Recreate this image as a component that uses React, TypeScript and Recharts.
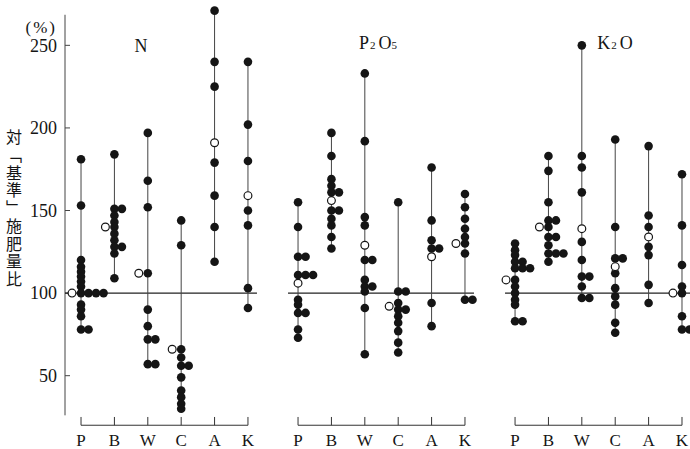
import { ScatterChart, Scatter, XAxis, YAxis, ReferenceLine } from "recharts";

const categories = ["P", "B", "W", "C", "A", "K"];
const yTicks = [50, 100, 150, 200, 250];

// 対「基準」施肥量比 (%) 黒丸 = 各事例, 白丸 = 平均
const nitrogen = [
  [181, 153, 120, 116, 113, 110, 107, 104, 100, 100, 100, 100, 93, 90, 86, 78, 78],
  [184, 151, 151, 147, 143, 140, 136, 132, 128, 128, 124, 109],
  [197, 168, 152, 112, 90, 80, 72, 72, 57, 57],
  [144, 129, 66, 61, 56, 56, 49, 41, 37, 33, 30],
  [271, 240, 225, 179, 159, 140, 119],
  [240, 202, 180, 150, 141, 103, 91],
];
const nitrogenOpen = [100, 140, 112, 66, 191, 159];

const phosphate = [
  [155, 140, 122, 122, 111, 111, 111, 96, 93, 88, 88, 78, 73],
  [197, 183, 169, 165, 161, 161, 150, 150, 145, 141, 134, 127],
  [233, 192, 146, 141, 120, 120, 108, 104, 104, 101, 91, 63],
  [155, 101, 101, 94, 90, 90, 86, 82, 77, 70, 64],
  [176, 144, 132, 127, 127, 94, 80],
  [160, 152, 145, 139, 134, 130, 124, 96, 96],
];
const phosphateOpen = [106, 156, 129, 92, 122, 130];

const potash = [
  [130, 126, 123, 119, 119, 115, 115, 115, 108, 104, 100, 96, 93, 83, 83],
  [183, 174, 155, 144, 144, 140, 134, 134, 129, 124, 124, 124, 119],
  [250, 183, 176, 161, 131, 120, 110, 110, 104, 97, 97],
  [193, 140, 121, 121, 112, 103, 98, 93, 82, 76],
  [189, 147, 140, 128, 123, 105, 94],
  [172, 141, 117, 104, 100, 86, 78, 78],
];
const potashOpen = [108, 140, 139, 116, 134, 100];

const panels = [
  { values: nitrogen, open: nitrogenOpen },
  { values: phosphate, open: phosphateOpen },
  { values: potash, open: potashOpen },
];
const panelStarts = [0, 6.5, 13];

const X_MIN = -0.48;
const X_MAX = 18.24;
const DOT_STEP = 0.225;
const OPEN_SHIFT = 0.27;
const SERIF = "'Liberation Serif', 'DejaVu Serif', serif";
const INK = "#151515";

const filled: { x: number; y: number }[] = [];
const opened: { x: number; y: number }[] = [];
const stems: { x: number; lo: number; hi: number }[] = [];

panels.forEach((panel, pi) => {
  panel.values.forEach((vals, ci) => {
    const x = panelStarts[pi] + ci;
    const seen: Record<number, number> = {};
    vals.forEach((v) => {
      const k = seen[v] || 0;
      seen[v] = k + 1;
      filled.push({ x: x + k * DOT_STEP, y: v });
    });
    const o = panel.open[ci];
    const clash = vals.some((v) => Math.abs(v - o) < 3);
    opened.push({ x: clash ? x - OPEN_SHIFT : x, y: o });
    stems.push({ x, lo: Math.min(...vals, o), hi: Math.max(...vals, o) });
  });
});

const tickPositions = panelStarts.flatMap((s) => categories.map((_, i) => s + i));

function labelFor(v: number) {
  const idx = tickPositions.findIndex((p) => Math.abs(p - v) < 0.01);
  return idx < 0 ? "" : categories[idx % categories.length];
}

const Dot = (p: any) => <circle cx={p.cx} cy={p.cy} r={4.3} fill={INK} />;
const OpenDot = (p: any) => (
  <circle cx={p.cx} cy={p.cy} r={3.9} fill="#fff" stroke={INK} strokeWidth={1.2} />
);

export default function App() {
  return (
    <div style={{ position: "absolute", left: 0, top: 0, width: 690, height: 449, background: "#fff" }}>
      <ScatterChart width={690} height={449} margin={{ top: 9, right: 0, bottom: 0, left: 0 }}>
        <XAxis
          type="number"
          dataKey="x"
          domain={[X_MIN, X_MAX]}
          ticks={tickPositions}
          tickFormatter={labelFor}
          interval={0}
          height={15.5}
          axisLine={false}
          tickLine={false}
          tickSize={0}
          tickMargin={0}
          tick={{ fontSize: 17, fill: INK, fontFamily: SERIF }}
        />
        <YAxis
          type="number"
          dataKey="y"
          domain={[15, 272]}
          ticks={yTicks}
          width={65}
          axisLine={false}
          tickLine={false}
          tick={{ fontSize: 18, fill: INK, fontFamily: SERIF }}
        />

        {/* y axis line and inner ticks */}
        <ReferenceLine
          segment={[{ x: X_MIN, y: 26 }, { x: X_MIN, y: 268.5 }]}
          stroke="#444"
          strokeWidth={1}
          ifOverflow="visible"
        />
        {yTicks.map((t) => (
          <ReferenceLine
            key={"yt" + t}
            segment={[{ x: X_MIN, y: t }, { x: X_MIN + 0.15, y: t }]}
            stroke="#444"
            ifOverflow="visible"
          />
        ))}

        {/* 100% lines per panel */}
        {panelStarts.map((s, i) => (
          <ReferenceLine
            key={"base" + i}
            segment={[{ x: i === 0 ? X_MIN : s - 0.3, y: 100 }, { x: s + 5.27, y: 100 }]}
            stroke="#222"
            strokeWidth={1.2}
            ifOverflow="visible"
          />
        ))}

        {/* bottom brackets */}
        {panelStarts.map((s, i) => (
          <ReferenceLine
            key={"br" + i}
            segment={[{ x: s, y: 20 }, { x: s + 5, y: 20 }]}
            stroke="#333"
            ifOverflow="visible"
          />
        ))}
        {tickPositions.map((p) => (
          <ReferenceLine
            key={"bt" + p}
            segment={[{ x: p, y: 20 }, { x: p, y: 25 }]}
            stroke="#333"
            ifOverflow="visible"
          />
        ))}

        {/* range stems */}
        {stems.map((s, i) => (
          <ReferenceLine
            key={"st" + i}
            segment={[{ x: s.x, y: s.lo }, { x: s.x, y: s.hi }]}
            stroke="#444"
            strokeWidth={1}
            ifOverflow="visible"
          />
        ))}

        <Scatter data={filled} shape={Dot} isAnimationActive={false} />
        <Scatter data={opened} shape={OpenDot} isAnimationActive={false} />
      </ScatterChart>

      <div style={{ position: "absolute", left: 57, top: 27, transform: "translate(-100%, -50%)", fontFamily: SERIF, fontSize: 17, letterSpacing: 2, color: INK, lineHeight: 1 }}>
        (%)
      </div>
      <div
        style={{
          position: "absolute",
          left: 6,
          top: 129,
          writingMode: "vertical-rl",
          fontFamily: "'Noto Sans CJK JP', sans-serif",
          fontSize: 16,
          lineHeight: "16px",
          letterSpacing: 1.75,
          color: INK,
        }}
      >
        対「基準」施肥量比
      </div>
      <div style={{ position: "absolute", left: 141, top: 46, transform: "translate(-50%, -50%)", fontFamily: SERIF, fontSize: 18, color: INK, lineHeight: 1 }}>
        N
      </div>
      <div style={{ position: "absolute", left: 378, top: 43, transform: "translate(-50%, -50%)", fontFamily: SERIF, fontSize: 18, color: INK, lineHeight: 1, whiteSpace: "nowrap" }}>
        P<span style={{ fontSize: 11, margin: "0 3px 0 1px" }}>2</span>O<span style={{ fontSize: 11 }}>5</span>
      </div>
      <div style={{ position: "absolute", left: 615, top: 43, transform: "translate(-50%, -50%)", fontFamily: SERIF, fontSize: 18, color: INK, lineHeight: 1, whiteSpace: "nowrap" }}>
        K<span style={{ fontSize: 11, margin: "0 3px 0 1px" }}>2</span>O
      </div>
    </div>
  );
}
